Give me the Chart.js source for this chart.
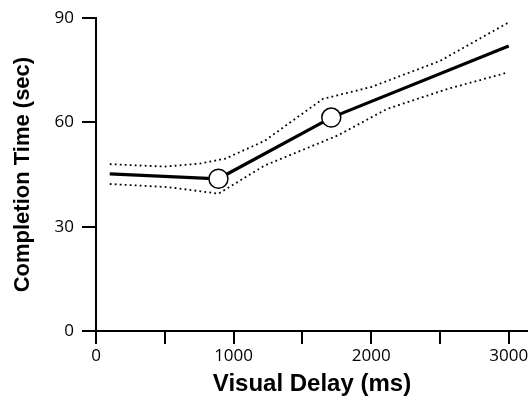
<!DOCTYPE html>
<html>
<head>
<meta charset="utf-8">
<script src="https://cdn.jsdelivr.net/npm/chart.js@4/dist/chart.umd.min.js"></script>
<style>
  html, body { margin: 0; padding: 0; background: #fff; }
  #wrap { width: 528px; height: 401px; position: relative; }
</style>
</head>
<body>
<div id="wrap"><canvas id="myChart"></canvas></div>
<script>
// mean curve (ms, sec)
var delayX = [100, 890, 1710, 3000];
var timeY = [45.2, 43.8, 61.4, 82];
// measured points shown as circles
var pointX = [890, 1710];
var pointY = [43.8, 61.4];
// confidence band, upper and lower dotted lines
var upperX = [100, 500, 760, 940, 1225, 1650, 2000, 2500, 3000];
var upperY = [48, 47.3, 48.2, 49.6, 54.7, 66.8, 70.2, 77.7, 88.8];
var lowerX = [100, 520, 760, 890, 1225, 1754, 2116, 2551, 2986];
var lowerY = [42.3, 41.4, 40.2, 39.5, 47.6, 56.2, 63.9, 69.6, 74.3];
var xTicks = [0, 500, 1000, 1500, 2000, 2500, 3000];
var yTicks = [0, 30, 60, 90];

function pts(xs, ys) {
    var out = [];
    for (var i = 0; i < xs.length; i++) out.push({x: xs[i], y: ys[i]});
    return out;
}

var tickFont = {family: "'Open Sans'", size: 17};
var titleFont = {family: "'Liberation Sans', Arial", weight: 'bold'};

new Chart("myChart", {
    type: "scatter",
    data: {
        datasets: [{
            data: pts(pointX, pointY),
            pointRadius: 9.5,
            pointBackgroundColor: "#fff",
            pointBorderColor: "#000",
            pointBorderWidth: 1.5,
            showLine: false,
            order: 0
        }, {
            data: pts(delayX, timeY),
            showLine: true,
            borderColor: "#000",
            borderWidth: 3.2,
            pointRadius: 0,
            order: 1
        }, {
            data: pts(upperX, upperY),
            showLine: true,
            borderColor: "#000",
            borderWidth: 1.8,
            borderDash: [1.8, 3.2],
            pointRadius: 0,
            order: 2
        }, {
            data: pts(lowerX, lowerY),
            showLine: true,
            borderColor: "#000",
            borderWidth: 1.8,
            borderDash: [1.8, 3.2],
            pointRadius: 0,
            order: 2
        }]
    },
    options: {
        responsive: true,
        maintainAspectRatio: false,
        animation: false,
        layout: {autoPadding: false, padding: {top: 17, right: 0, bottom: 0, left: 0}},
        plugins: {legend: {display: false}, tooltip: {enabled: false}},
        scales: {
            x: {
                type: "linear",
                min: 0,
                max: 3140,
                afterBuildTicks: function(scale) {
                    scale.ticks = xTicks.map(function(v) { return {value: v}; });
                },
                afterFit: function(scale) {
                    scale.height = 70;
                    scale.paddingRight = 0;
                },
                border: {color: "#000", width: 2},
                grid: {drawOnChartArea: false, drawTicks: true, tickLength: 13, color: "#000", lineWidth: 2},
                ticks: {
                    color: "#000",
                    font: tickFont,
                    padding: 2,
                    maxRotation: 0,
                    autoSkip: false,
                    callback: function(v) { return v % 1000 === 0 ? String(v) : ""; }
                },
                title: {
                    display: true,
                    text: "Visual Delay (ms)",
                    color: "#000",
                    font: Object.assign({size: 24}, titleFont),
                    padding: {top: 0, bottom: 2}
                }
            },
            y: {
                min: 0,
                max: 90,
                afterBuildTicks: function(scale) {
                    scale.ticks = yTicks.map(function(v) { return {value: v}; });
                },
                afterFit: function(scale) { scale.width = 96; },
                border: {color: "#000", width: 2},
                grid: {drawOnChartArea: false, drawTicks: true, tickLength: 14, color: "#000", lineWidth: 2},
                ticks: {color: "#000", font: tickFont, padding: 8},
                title: {
                    display: true,
                    text: "Completion Time (sec)",
                    color: "#000",
                    font: Object.assign({size: 22}, titleFont),
                    padding: {top: 10, bottom: 0}
                }
            }
        }
    }
});
</script>
</body>
</html>
